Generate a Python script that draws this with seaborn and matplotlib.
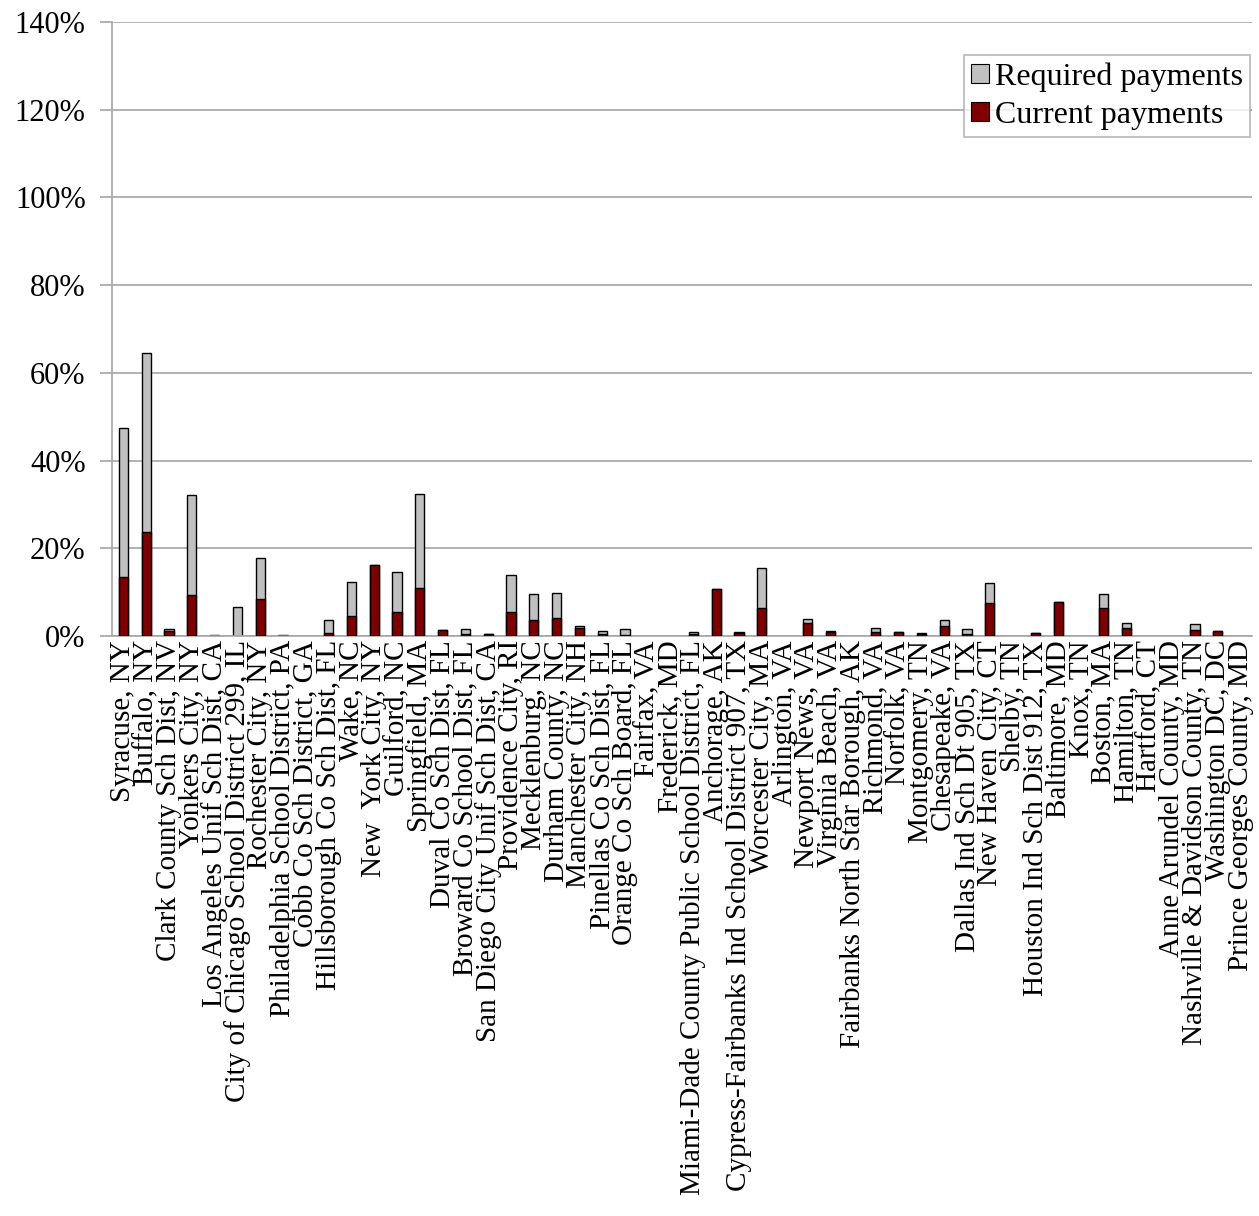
import matplotlib
matplotlib.use("Agg")
import matplotlib.pyplot as plt
import seaborn as sns
import numpy as np
import pandas as pd
from matplotlib.patches import Patch
from matplotlib.ticker import PercentFormatter

DISTRICTS = [
    "Syracuse, NY", "Buffalo, NY", "Clark County Sch Dist, NV", "Yonkers City, NY",
    "Los Angeles Unif Sch Dist, CA", "City of Chicago School District 299, IL",
    "Rochester City, NY", "Philadelphia School District, PA", "Cobb Co Sch District, GA",
    "Hillsborough Co Sch Dist, FL", "Wake, NC", "New  York City, NY", "Guilford, NC",
    "Springfield, MA", "Duval Co Sch Dist, FL", "Broward Co School Dist, FL",
    "San Diego City Unif Sch Dist, CA", "Providence City, RI", "Mecklenburg, NC",
    "Durham County, NC", "Manchester City, NH", "Pinellas Co Sch Dist, FL",
    "Orange Co Sch Board, FL", "Fairfax, VA", "Frederick, MD",
    "Miami-Dade County Public School District, FL", "Anchorage, AK",
    "Cypress-Fairbanks Ind School District 907, TX", "Worcester City, MA",
    "Arlington, VA", "Newport News, VA", "Virginia Beach, VA",
    "Fairbanks North Star Borough, AK", "Richmond, VA", "Norfolk, VA",
    "Montgomery, TN", "Chesapeake, VA", "Dallas Ind Sch Dt 905, TX",
    "New Haven City, CT", "Shelby, TN", "Houston Ind Sch Dist 912, TX",
    "Baltimore, MD", "Knox, TN", "Boston, MA", "Hamilton, TN", "Hartford, CT",
    "Anne Arundel County, MD", "Nashville & Davidson County, TN",
    "Washington DC, DC", "Prince Georges County, MD",
]

# percent of payroll
REQUIRED = [
    47.3, 64.5, 1.6, 32.1, 0.2, 6.6, 17.7, 0.2, 0.0, 3.6,
    12.3, 16.1, 14.5, 32.4, 1.3, 1.5, 0.5, 13.9, 9.5, 9.9,
    2.2, 1.1, 1.5, 0.0, 0.0, 0.8, 10.6, 0.8, 15.4, 0.0,
    3.8, 1.1, 0.0, 1.8, 0.9, 0.6, 3.6, 1.5, 12.0, 0.0,
    0.7, 7.8, 0.0, 9.6, 3.0, 0.0, 0.0, 2.7, 1.1, 0.0,
]
CURRENT = [
    13.5, 23.7, 1.1, 9.4, 0.0, 0.0, 8.4, 0.1, 0.0, 0.6,
    4.6, 16.1, 5.4, 11.0, 1.3, 0.5, 0.4, 5.5, 3.6, 4.0,
    1.9, 0.5, 0.3, 0.0, 0.0, 0.5, 10.6, 0.6, 6.4, 0.0,
    2.9, 0.8, 0.0, 1.0, 0.8, 0.4, 2.2, 0.4, 7.6, 0.0,
    0.6, 7.8, 0.0, 6.3, 1.9, 0.0, 0.0, 1.4, 1.1, 0.0,
]

GREY = "#C0C0C0"
DARK_RED = "#800000"
AXIS_GREY = "#A6A6A6"


def main():
    sns.set_style("white")
    plt.rcParams["font.family"] = ["Liberation Serif", "DejaVu Serif"]
    plt.rcParams["text.color"] = "black"
    plt.rcParams["xtick.color"] = "black"
    plt.rcParams["ytick.color"] = "black"

    df = pd.DataFrame({"district": DISTRICTS, "required": REQUIRED, "current": CURRENT})
    # zero values get no bar at all (no stray edge line on the baseline)
    df[["required", "current"]] = df[["required", "current"]].replace(0.0, np.nan)

    fig, ax = plt.subplots(figsize=(12.59, 12.16), dpi=100)
    fig.subplots_adjust(left=0.089, right=0.9944, top=0.982, bottom=0.477)

    sns.barplot(data=df, x="district", y="required", color=GREY, width=0.4,
                edgecolor="black", linewidth=1.0, saturation=1, ax=ax, zorder=2)
    sns.barplot(data=df, x="district", y="current", color=DARK_RED, width=0.4,
                edgecolor="black", linewidth=1.0, saturation=1, ax=ax, zorder=3)

    ax.set_ylim(0, 140)
    ax.set_xlim(-0.5, len(DISTRICTS) - 0.5)
    ax.set_yticks(range(0, 141, 20))
    ax.yaxis.set_major_formatter(PercentFormatter(decimals=0))
    ax.set_xlabel("")
    ax.set_ylabel("")

    ax.yaxis.grid(True, color=AXIS_GREY, linewidth=1.2, zorder=0)
    ax.set_axisbelow(True)
    for side in ["top", "right"]:
        ax.spines[side].set_visible(False)
    for side in ["left", "bottom"]:
        ax.spines[side].set_color(AXIS_GREY)
        ax.spines[side].set_linewidth(1.2)

    ax.tick_params(axis="y", length=9, width=1.2, color=AXIS_GREY, labelcolor="black",
                   labelsize=22, pad=10, left=True)
    ax.tick_params(axis="x", length=0, labelsize=21, labelcolor="black", pad=3)
    plt.setp(ax.get_xticklabels(), rotation=90)

    handles = [
        Patch(facecolor=GREY, edgecolor="black", linewidth=0.8, label="Required payments"),
        Patch(facecolor=DARK_RED, edgecolor="black", linewidth=0.8, label="Current payments"),
    ]
    leg = ax.legend(handles=handles, loc="upper right", bbox_to_anchor=(0.9985, 0.946),
                    fontsize=23, frameon=True, fancybox=False, handlelength=0.55,
                    handleheight=0.55, handletextpad=0.2, borderpad=0.22,
                    labelspacing=0.3, borderaxespad=0)
    leg.get_frame().set_edgecolor(AXIS_GREY)
    leg.get_frame().set_linewidth(1.2)

    fig.savefig("out.png", dpi=100)


if __name__ == "__main__":
    main()
